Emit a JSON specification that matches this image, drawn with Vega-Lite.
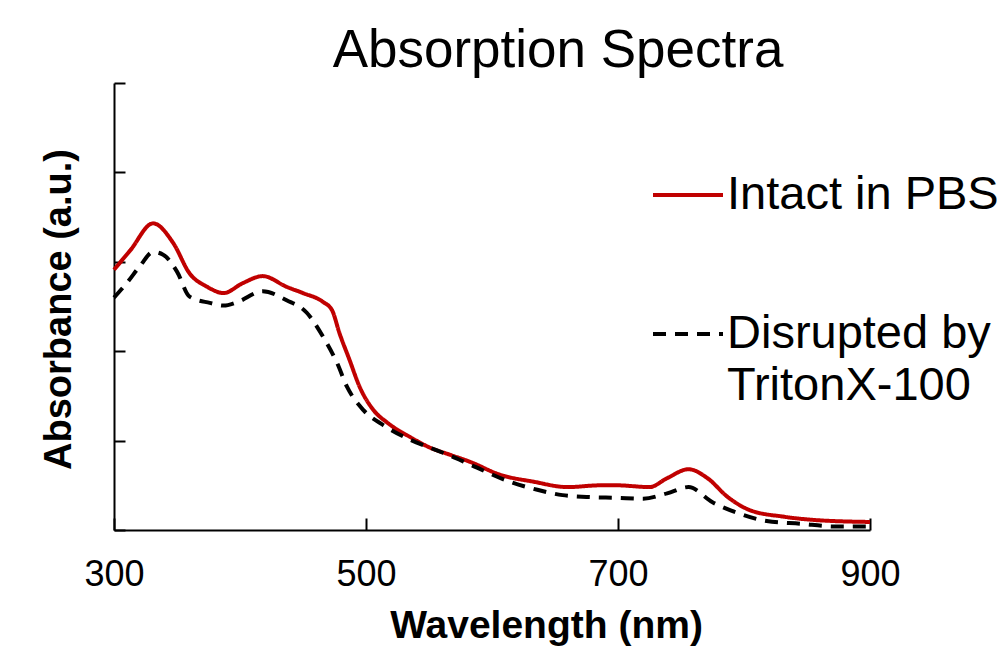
{
  "$schema": "https://vega.github.io/schema/vega-lite/v6.json",
  "width": 756,
  "height": 447,
  "autosize": {"type": "none"},
  "padding": {"left": 114, "top": 83, "right": 127, "bottom": 119},
  "background": "white",
  "title": {"text": "Absorption Spectra", "fontSize": 53, "font": "Liberation Sans", "fontWeight": "normal", "color": "black", "anchor": "middle", "dx": 66, "dy": 51, "baseline": "alphabetic", "offset": 13},
  "data": {"values": [
    {"series": "Intact in PBS", "wavelength": 300, "absorbance": 2.91},
    {"series": "Intact in PBS", "wavelength": 313, "absorbance": 3.13},
    {"series": "Intact in PBS", "wavelength": 331, "absorbance": 3.43},
    {"series": "Intact in PBS", "wavelength": 347, "absorbance": 3.21},
    {"series": "Intact in PBS", "wavelength": 360, "absorbance": 2.87},
    {"series": "Intact in PBS", "wavelength": 374, "absorbance": 2.72},
    {"series": "Intact in PBS", "wavelength": 387, "absorbance": 2.65},
    {"series": "Intact in PBS", "wavelength": 402, "absorbance": 2.76},
    {"series": "Intact in PBS", "wavelength": 418, "absorbance": 2.84},
    {"series": "Intact in PBS", "wavelength": 437, "absorbance": 2.72},
    {"series": "Intact in PBS", "wavelength": 450, "absorbance": 2.65},
    {"series": "Intact in PBS", "wavelength": 466, "absorbance": 2.55},
    {"series": "Intact in PBS", "wavelength": 473, "absorbance": 2.46},
    {"series": "Intact in PBS", "wavelength": 479, "absorbance": 2.2},
    {"series": "Intact in PBS", "wavelength": 487, "absorbance": 1.9},
    {"series": "Intact in PBS", "wavelength": 495, "absorbance": 1.6},
    {"series": "Intact in PBS", "wavelength": 506, "absorbance": 1.34},
    {"series": "Intact in PBS", "wavelength": 517, "absorbance": 1.2},
    {"series": "Intact in PBS", "wavelength": 535, "absorbance": 1.04},
    {"series": "Intact in PBS", "wavelength": 551, "absorbance": 0.92},
    {"series": "Intact in PBS", "wavelength": 567, "absorbance": 0.84},
    {"series": "Intact in PBS", "wavelength": 583, "absorbance": 0.76},
    {"series": "Intact in PBS", "wavelength": 606, "absorbance": 0.62},
    {"series": "Intact in PBS", "wavelength": 633, "absorbance": 0.54},
    {"series": "Intact in PBS", "wavelength": 660, "absorbance": 0.48},
    {"series": "Intact in PBS", "wavelength": 686, "absorbance": 0.5},
    {"series": "Intact in PBS", "wavelength": 699, "absorbance": 0.5},
    {"series": "Intact in PBS", "wavelength": 725, "absorbance": 0.48},
    {"series": "Intact in PBS", "wavelength": 739, "absorbance": 0.58},
    {"series": "Intact in PBS", "wavelength": 756, "absorbance": 0.68},
    {"series": "Intact in PBS", "wavelength": 771, "absorbance": 0.58},
    {"series": "Intact in PBS", "wavelength": 787, "absorbance": 0.37},
    {"series": "Intact in PBS", "wavelength": 805, "absorbance": 0.22},
    {"series": "Intact in PBS", "wavelength": 831, "absorbance": 0.15},
    {"series": "Intact in PBS", "wavelength": 858, "absorbance": 0.11},
    {"series": "Intact in PBS", "wavelength": 900, "absorbance": 0.09},
    {"series": "Disrupted by TritonX-100", "wavelength": 300, "absorbance": 2.6},
    {"series": "Disrupted by TritonX-100", "wavelength": 310, "absorbance": 2.76},
    {"series": "Disrupted by TritonX-100", "wavelength": 321, "absorbance": 2.96},
    {"series": "Disrupted by TritonX-100", "wavelength": 331, "absorbance": 3.11},
    {"series": "Disrupted by TritonX-100", "wavelength": 339, "absorbance": 3.08},
    {"series": "Disrupted by TritonX-100", "wavelength": 350, "absorbance": 2.89},
    {"series": "Disrupted by TritonX-100", "wavelength": 360, "absorbance": 2.61},
    {"series": "Disrupted by TritonX-100", "wavelength": 376, "absorbance": 2.54},
    {"series": "Disrupted by TritonX-100", "wavelength": 387, "absorbance": 2.51},
    {"series": "Disrupted by TritonX-100", "wavelength": 398, "absorbance": 2.55},
    {"series": "Disrupted by TritonX-100", "wavelength": 418, "absorbance": 2.67},
    {"series": "Disrupted by TritonX-100", "wavelength": 437, "absorbance": 2.57},
    {"series": "Disrupted by TritonX-100", "wavelength": 453, "absorbance": 2.43},
    {"series": "Disrupted by TritonX-100", "wavelength": 466, "absorbance": 2.16},
    {"series": "Disrupted by TritonX-100", "wavelength": 477, "absorbance": 1.87},
    {"series": "Disrupted by TritonX-100", "wavelength": 485, "absorbance": 1.6},
    {"series": "Disrupted by TritonX-100", "wavelength": 498, "absorbance": 1.34},
    {"series": "Disrupted by TritonX-100", "wavelength": 514, "absorbance": 1.17},
    {"series": "Disrupted by TritonX-100", "wavelength": 535, "absorbance": 1.01},
    {"series": "Disrupted by TritonX-100", "wavelength": 551, "absorbance": 0.92},
    {"series": "Disrupted by TritonX-100", "wavelength": 567, "absorbance": 0.83},
    {"series": "Disrupted by TritonX-100", "wavelength": 583, "absorbance": 0.73},
    {"series": "Disrupted by TritonX-100", "wavelength": 614, "absorbance": 0.54},
    {"series": "Disrupted by TritonX-100", "wavelength": 636, "absorbance": 0.45},
    {"series": "Disrupted by TritonX-100", "wavelength": 656, "absorbance": 0.39},
    {"series": "Disrupted by TritonX-100", "wavelength": 675, "absorbance": 0.37},
    {"series": "Disrupted by TritonX-100", "wavelength": 699, "absorbance": 0.36},
    {"series": "Disrupted by TritonX-100", "wavelength": 720, "absorbance": 0.35},
    {"series": "Disrupted by TritonX-100", "wavelength": 739, "absorbance": 0.41},
    {"series": "Disrupted by TritonX-100", "wavelength": 756, "absorbance": 0.48},
    {"series": "Disrupted by TritonX-100", "wavelength": 775, "absorbance": 0.31},
    {"series": "Disrupted by TritonX-100", "wavelength": 795, "absorbance": 0.19},
    {"series": "Disrupted by TritonX-100", "wavelength": 818, "absorbance": 0.1},
    {"series": "Disrupted by TritonX-100", "wavelength": 845, "absorbance": 0.07},
    {"series": "Disrupted by TritonX-100", "wavelength": 871, "absorbance": 0.04},
    {"series": "Disrupted by TritonX-100", "wavelength": 900, "absorbance": 0.04}
  ]},
  "mark": {"type": "line", "strokeWidth": 4, "interpolate": "monotone"},
  "encoding": {
    "x": {
      "field": "wavelength", "type": "quantitative",
      "scale": {"domain": [300, 900], "nice": false, "zero": false},
      "axis": {
        "values": [300, 500, 700, 900], "tickSize": -12, "tickWidth": 2, "tickColor": "black",
        "domainColor": "black", "domainWidth": 2, "grid": false,
        "labelFontSize": 36, "labelFont": "Liberation Sans", "labelColor": "black",
        "labelBaseline": "alphabetic", "labelPadding": 67, "labelFlush": false, "labelOverlap": false,
        "title": "Wavelength (nm)", "titleFontSize": 39, "titleFont": "Liberation Sans", "titleFontWeight": "bold",
        "titleColor": "black", "titleX": 432, "titleY": 107, "titleBaseline": "alphabetic", "titleAlign": "center"
      }
    },
    "y": {
      "field": "absorbance", "type": "quantitative",
      "scale": {"domain": [0, 5], "nice": false},
      "axis": {
        "values": [0, 1, 2, 3, 4, 5], "tickSize": -11, "tickWidth": 2, "tickColor": "black",
        "domainColor": "black", "domainWidth": 2, "grid": false, "labels": false,
        "title": "Absorbance (a.u.)", "titleFontSize": 38, "titleFont": "Liberation Sans", "titleFontWeight": "bold",
        "titleColor": "black", "titleX": -44, "titleY": 226, "titleAngle": -90, "titleBaseline": "alphabetic", "titleAlign": "center"
      }
    },
    "color": {
      "field": "series", "type": "nominal",
      "scale": {"domain": ["Intact in PBS", "Disrupted by TritonX-100"], "range": ["#C00000", "#000000"]},
      "legend": {
        "title": null, "orient": "none", "legendX": 537, "legendY": 75, "padding": 0,
        "symbolType": "stroke", "symbolSize": 4900, "symbolStrokeWidth": 4,
        "labelFontSize": 47, "labelFont": "Liberation Sans", "labelColor": "black", "labelLimit": 2000,
        "labelOffset": 2, "rowPadding": 79,
        "labelExpr": "datum.label == 'Disrupted by TritonX-100' ? ['Disrupted by', 'TritonX-100'] : datum.label",
        "encode": {"labels": {"update": {"lineHeight": {"value": 52}}}}
      }
    },
    "strokeDash": {
      "field": "series", "type": "nominal",
      "scale": {"domain": ["Intact in PBS", "Disrupted by TritonX-100"], "range": [[1, 0], [13, 9]]},
      "legend": {
        "title": null, "orient": "none", "legendX": 537, "legendY": 75, "padding": 0,
        "symbolType": "stroke", "symbolSize": 4900, "symbolStrokeWidth": 4,
        "labelFontSize": 47, "labelFont": "Liberation Sans", "labelColor": "black", "labelLimit": 2000,
        "labelOffset": 2, "rowPadding": 79,
        "labelExpr": "datum.label == 'Disrupted by TritonX-100' ? ['Disrupted by', 'TritonX-100'] : datum.label",
        "encode": {"labels": {"update": {"lineHeight": {"value": 52}}}}
      }
    }
  },
  "config": {"view": {"stroke": null}}
}
